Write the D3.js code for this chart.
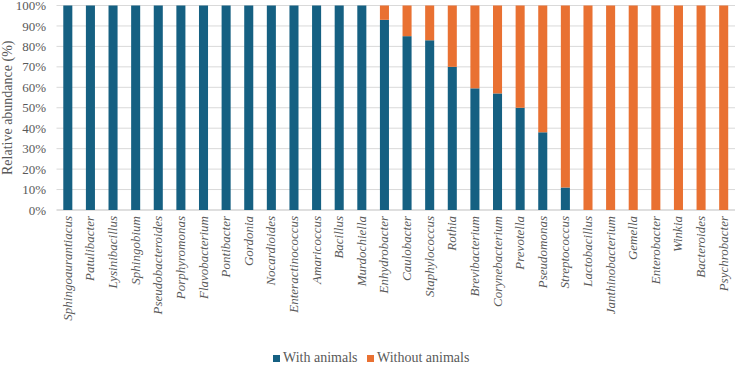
<!DOCTYPE html>
<html>
<head>
<meta charset="utf-8">
<script src="https://cdn.jsdelivr.net/npm/d3@7"></script>
<style>
  body { margin: 0; background: #fff; }
  svg { display: block; }
</style>
</head>
<body>
<svg></svg>
<script>
const width = 735;
const height = 366;
const serif = "Liberation Serif";

// genera, left to right
const genera = [
    "Sphingoaurantiacus", "Patulibacter", "Lysinibacillus", "Sphingobium",
    "Pseudobacteroides", "Porphyromonas", "Flavobacterium", "Pontibacter",
    "Gordonia", "Nocardioides", "Enteractinococcus", "Amaricoccus",
    "Bacillus", "Murdochiella", "Enhydrobacter", "Caulobacter",
    "Staphylococcus", "Rothia", "Brevibacterium", "Corynebacterium",
    "Prevotella", "Pseudomonas", "Streptococcus", "Lactobacillus",
    "Janthinobacterium", "Gemella", "Enterobacter", "Winkia",
    "Bacteroides", "Psychrobacter"
];

// % with animals (rest is without animals)
const withAnimals = [
    100, 100, 100, 100, 100, 100, 100, 100, 100, 100, 100, 100, 100, 100,
    93, 85, 83, 70, 59.5, 57, 50, 38, 11,
    0, 0, 0, 0, 0, 0, 0
];
const withoutAnimals = withAnimals.map(v => 100 - v);

const seriesNames = ["With animals", "Without animals"];
const colors = ["#156082", "#E97132"];
const yTicks = [0, 10, 20, 30, 40, 50, 60, 70, 80, 90, 100];

const margin = {top: 5.5, right: 0, bottom: 156, left: 56.5};

const svg = d3.select("svg")
    .attr("width", width)
    .attr("height", height)
    .attr("font-family", serif);

const x = d3.scaleBand()
    .domain(genera)
    .range([margin.left, width - margin.right])
    .paddingInner(0.6)
    .paddingOuter(0.3);

const y = d3.scaleLinear()
    .domain([0, 100])
    .range([height - margin.bottom, margin.top]);

// gridlines
svg.append("g")
    .selectAll("line")
    .data(yTicks)
    .enter().append("line")
    .attr("x1", margin.left)
    .attr("x2", width - margin.right)
    .attr("y1", d => y(d))
    .attr("y2", d => y(d))
    .attr("stroke", d => d === 0 ? "#bfbfbf" : "#d9d9d9")
    .attr("stroke-width", 1);

// stacked bars
const rows = genera.map((g, i) => ({genus: g, a: withAnimals[i], b: withoutAnimals[i]}));
const stack = d3.stack().keys(["a", "b"])(rows);

svg.append("g")
    .selectAll("g")
    .data(stack)
    .enter().append("g")
    .attr("fill", (d, i) => colors[i])
    .selectAll("rect")
    .data(d => d)
    .enter().append("rect")
    .attr("x", d => x(d.data.genus))
    .attr("width", x.bandwidth())
    .attr("y", d => y(d[1]))
    .attr("height", d => y(d[0]) - y(d[1]));

// y axis labels
svg.append("g")
    .selectAll("text")
    .data(yTicks)
    .enter().append("text")
    .attr("x", 46)
    .attr("y", d => y(d))
    .attr("dy", "0.35em")
    .attr("text-anchor", "end")
    .attr("font-family", serif)
    .attr("font-size", 13)
    .attr("fill", "#595959")
    .text(d => d + "%");

svg.append("text")
    .attr("transform", `translate(12,${(y(0) + y(100)) / 2}) rotate(-90)`)
    .attr("text-anchor", "middle")
    .attr("font-family", serif)
    .attr("font-size", 14)
    .attr("fill", "#595959")
    .text("Relative abundance (%)");

// x labels
svg.append("g")
    .selectAll("text")
    .data(genera)
    .enter().append("text")
    .attr("transform", d => `translate(${x(d) + x.bandwidth() / 2 + 4},${y(0) + 6}) rotate(-90)`)
    .attr("text-anchor", "end")
    .attr("font-family", serif)
    .attr("font-size", 13)
    .attr("font-style", "italic")
    .attr("fill", "#595959")
    .text(d => d);

// legend
const legend = svg.append("g");
const legendX = [273, 367];
seriesNames.forEach((name, i) => {
    legend.append("rect")
        .attr("x", legendX[i])
        .attr("y", 355)
        .attr("width", 7)
        .attr("height", 7)
        .attr("fill", colors[i]);
    legend.append("text")
        .attr("x", legendX[i] + 10)
        .attr("y", 362)
        .attr("font-family", serif)
        .attr("font-size", 14)
        .attr("fill", "#595959")
        .text(name);
});
</script>
</body>
</html>
